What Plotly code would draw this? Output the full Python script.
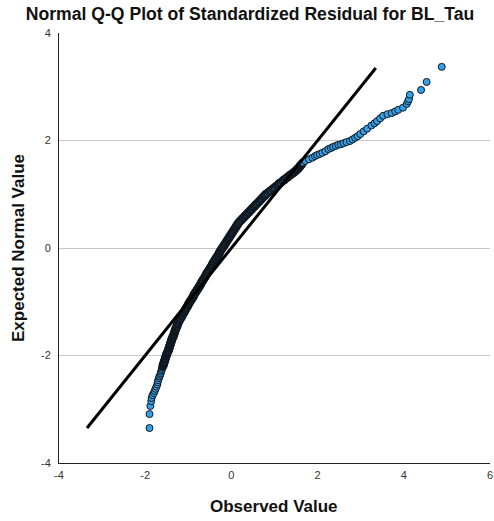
import plotly.graph_objects as go

# ---- data (Observed standardized residual vs expected normal value) ----
observed_lower = [-1.90, -1.90, -1.88, -1.86, -1.85, -1.83, -1.80, -1.78, -1.76, -1.74, -1.72,
                  -1.71, -1.70, -1.68, -1.67, -1.65, -1.64, -1.63, -1.62, -1.61, -1.60]
expected_lower = [-3.35, -3.09, -2.94, -2.85, -2.79, -2.74, -2.70, -2.66, -2.62, -2.58, -2.54,
                  -2.50, -2.46, -2.42, -2.39, -2.36, -2.33, -2.30, -2.27, -2.25, -2.22]

observed_middle = [
    -1.59, -1.58, -1.57, -1.56, -1.55, -1.54, -1.53, -1.52, -1.51, -1.50, -1.49, -1.47, -1.46, -1.45, -1.44, -1.43,
    -1.42, -1.41, -1.40, -1.39, -1.38, -1.37, -1.35, -1.34, -1.33, -1.32, -1.31, -1.30, -1.29, -1.27, -1.26, -1.25,
    -1.24, -1.22, -1.21, -1.19, -1.17, -1.15, -1.14, -1.12, -1.10, -1.08, -1.07, -1.05, -1.03, -1.01, -1.00, -0.98,
    -0.96, -0.94, -0.92, -0.90, -0.88, -0.87, -0.85, -0.83, -0.81, -0.79, -0.77, -0.75, -0.73, -0.71, -0.70, -0.68,
    -0.66, -0.64, -0.62, -0.60, -0.59, -0.57, -0.55, -0.53, -0.51, -0.49, -0.47, -0.45, -0.44, -0.42, -0.40, -0.38,
    -0.36, -0.34, -0.32, -0.30, -0.28, -0.27, -0.25, -0.23, -0.21, -0.19, -0.17, -0.15, -0.13, -0.11, -0.09, -0.07,
    -0.05, -0.03, -0.01, 0.01, 0.03, 0.05, 0.07, 0.09, 0.11, 0.13, 0.15, 0.17,
    0.20, 0.23, 0.26, 0.29, 0.32, 0.35, 0.38, 0.41, 0.44, 0.47, 0.50, 0.53,
    0.56, 0.59, 0.62, 0.65, 0.68, 0.71, 0.74, 0.77,
    0.80, 0.84, 0.88, 0.92, 0.96, 1.00, 1.04, 1.08,
    1.11, 1.15, 1.19, 1.23, 1.27, 1.31, 1.35, 1.39,
    1.44, 1.47, 1.50, 1.52, 1.55, 1.57, 1.59, 1.61, 1.63, 1.65,
]
expected_middle = [
    -2.20, -2.17, -2.15, -2.12, -2.10, -2.07, -2.05, -2.02, -2.00, -1.97, -1.95, -1.92, -1.90, -1.87, -1.85, -1.82,
    -1.80, -1.77, -1.75, -1.72, -1.70, -1.67, -1.65, -1.62, -1.60, -1.57, -1.55, -1.52, -1.50, -1.47, -1.45, -1.42,
    -1.40, -1.37, -1.35, -1.32, -1.30, -1.27, -1.25, -1.22, -1.20, -1.17, -1.15, -1.12, -1.10, -1.07, -1.05, -1.02,
    -1.00, -0.97, -0.95, -0.92, -0.90, -0.87, -0.85, -0.82, -0.80, -0.77, -0.75, -0.72, -0.70, -0.67, -0.65, -0.62,
    -0.60, -0.57, -0.55, -0.52, -0.50, -0.47, -0.45, -0.42, -0.40, -0.37, -0.35, -0.32, -0.30, -0.27, -0.25, -0.22,
    -0.20, -0.17, -0.15, -0.12, -0.10, -0.07, -0.05, -0.02, 0.00, 0.02, 0.05, 0.07, 0.10, 0.12, 0.15, 0.17,
    0.20, 0.22, 0.25, 0.27, 0.30, 0.32, 0.35, 0.37, 0.40, 0.42, 0.45, 0.47,
    0.50, 0.52, 0.55, 0.57, 0.60, 0.62, 0.65, 0.67, 0.70, 0.72, 0.75, 0.77,
    0.80, 0.82, 0.85, 0.87, 0.90, 0.92, 0.95, 0.97,
    1.00, 1.02, 1.05, 1.07, 1.10, 1.12, 1.15, 1.17,
    1.20, 1.22, 1.25, 1.27, 1.30, 1.32, 1.35, 1.37,
    1.40, 1.42, 1.44, 1.46, 1.48, 1.50, 1.52, 1.54, 1.56, 1.58,
]

observed_upper = [1.71, 1.80, 1.88, 1.94, 1.99, 2.05, 2.11, 2.18, 2.25, 2.31,
                  2.36, 2.42, 2.48, 2.54, 2.60, 2.67, 2.75, 2.81, 2.87, 2.93,
                  2.99, 3.07, 3.15, 3.25, 3.32, 3.38, 3.45, 3.52, 3.62, 3.72,
                  3.80, 3.87, 3.98, 4.07, 4.10, 4.12, 4.14, 4.40, 4.53, 4.88]
expected_upper = [1.62, 1.65, 1.68, 1.71, 1.73, 1.75, 1.77, 1.80, 1.84, 1.86,
                  1.88, 1.90, 1.92, 1.93, 1.95, 1.97, 1.99, 2.02, 2.05, 2.08,
                  2.12, 2.17, 2.22, 2.28, 2.32, 2.36, 2.41, 2.46, 2.49, 2.51,
                  2.54, 2.57, 2.61, 2.68, 2.73, 2.77, 2.85, 2.94, 3.09, 3.37]

observed = observed_lower + observed_middle + observed_upper
expected = expected_lower + expected_middle + expected_upper

ref_line = [-3.35, 3.35]

x_ticks = [-4, -2, 0, 2, 4, 6]
y_ticks = [-4, -2, 0, 2, 4]

title_text = "Normal Q-Q Plot of Standardized Residual for BL_Tau"
x_title = "Observed Value"
y_title = "Expected Normal Value"

FONT = "Liberation Sans, Arial, sans-serif"

# dense central run: heavier outlines so the overlapping markers read as a solid dark band
outline_widths = ([1.0] * len(observed_lower) + [2.0] * len(observed_middle)
                  + [1.0] * len(observed_upper))

fig = go.Figure()
fig.add_trace(go.Scatter(
    x=observed, y=expected, mode="markers",
    marker=dict(size=7, color="#33a0e8",
                line=dict(color="#111820", width=outline_widths)),
    showlegend=False, hoverinfo="x+y",
))
fig.add_trace(go.Scatter(
    x=ref_line, y=ref_line, mode="lines",
    line=dict(color="#000000", width=3),
    showlegend=False, hoverinfo="skip",
))

L, R, T, B = 59, 4, 33, 58
W, H = 494, 521
PW, PH = W - L - R, H - T - B

fig.update_layout(
    width=W, height=H,
    margin=dict(l=L, r=R, t=T, b=B, autoexpand=False),
    paper_bgcolor="white", plot_bgcolor="white",
    font=dict(family=FONT, color="#222222"),
    title=dict(text="<b>" + title_text + "</b>", x=250 / W, xanchor="center",
               y=1 - 14 / H, yanchor="middle", yref="container",
               font=dict(size=17.6, color="#111111", family=FONT)),
    annotations=[
        dict(text="<b>" + x_title + "</b>", xref="paper", yref="paper",
             x=(274 - L) / PW, y=(H - B - 507) / PH, xanchor="center", yanchor="middle",
             showarrow=False, font=dict(size=17, color="#111111", family=FONT)),
        dict(text="<b>" + y_title + "</b>", xref="paper", yref="paper",
             x=(18 - L) / PW, y=(H - B - 248) / PH, xanchor="center", yanchor="middle",
             textangle=-90, showarrow=False, font=dict(size=17, color="#111111", family=FONT)),
    ],
)
fig.update_xaxes(
    range=[-4, 6], tickvals=x_ticks, ticktext=[str(v) for v in x_ticks],
    showgrid=False, zeroline=False, automargin=False,
    showline=True, linecolor="#222222", linewidth=1,
    ticks="", ticklabelstandoff=2,
    tickfont=dict(size=11, color="#333333"),
)
fig.update_yaxes(
    range=[-4, 4], tickvals=y_ticks, ticktext=[str(v) for v in y_ticks],
    showgrid=True, gridcolor="#c8c8c8", gridwidth=1, zeroline=False, automargin=False,
    showline=True, linecolor="#222222", linewidth=1,
    ticks="", ticklabelstandoff=5,
    tickfont=dict(size=11, color="#333333"),
)

fig.write_html(
    "out.html",
    config={"displayModeBar": False},
    post_script="document.body.style.margin='0';document.body.style.overflow='hidden';",
)
